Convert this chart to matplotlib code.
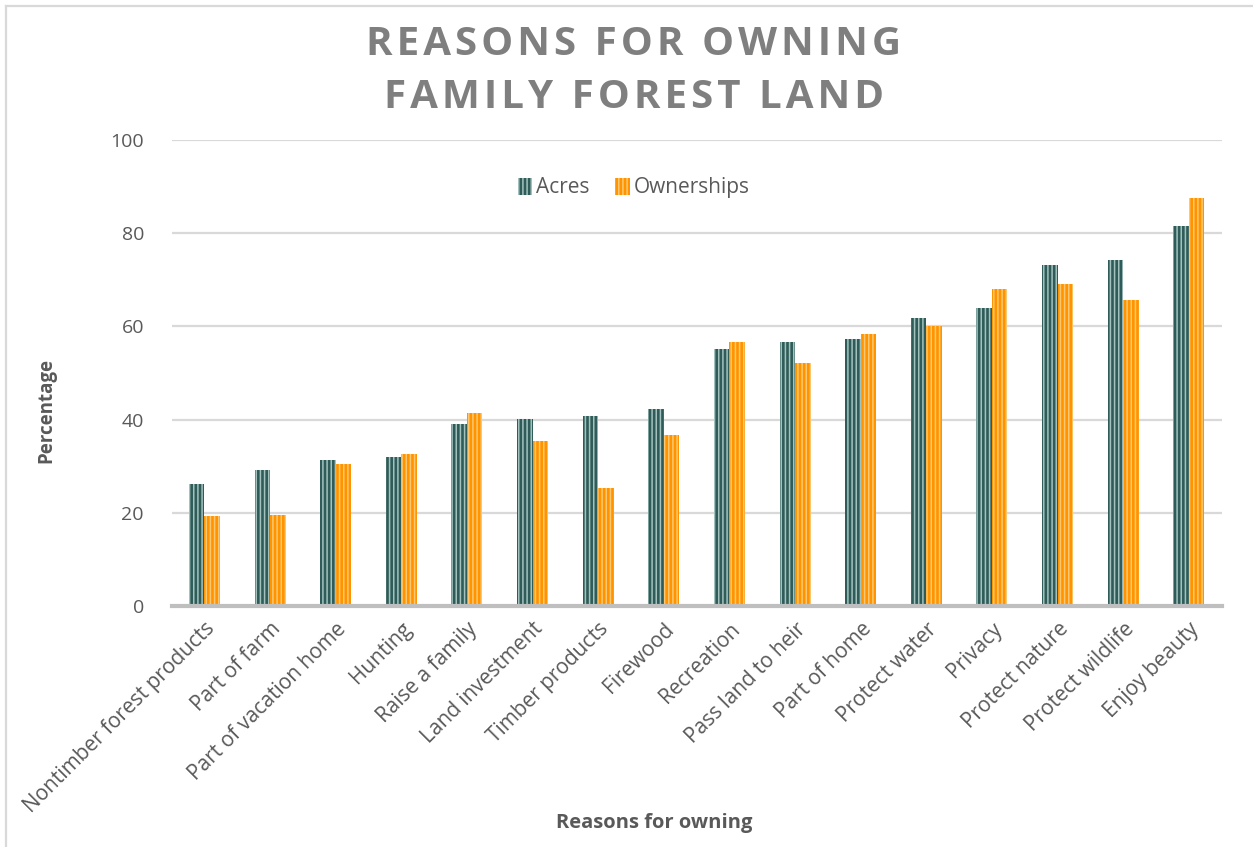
import matplotlib
matplotlib.use("Agg")
import matplotlib.pyplot as plt
from matplotlib.lines import Line2D
import numpy as np

categories = ["Nontimber forest products", "Part of farm", "Part of vacation home",
              "Hunting", "Raise a family", "Land investment", "Timber products",
              "Firewood", "Recreation", "Pass land to heir", "Part of home",
              "Protect water", "Privacy", "Protect nature", "Protect wildlife",
              "Enjoy beauty"]
acres = [26.2, 29.1, 31.3, 32.0, 39.1, 40.1, 40.8, 42.3, 55.1, 56.7, 57.3,
         61.8, 63.9, 73.2, 74.2, 81.5]
ownerships = [19.4, 19.5, 30.4, 32.7, 41.4, 35.4, 25.3, 36.7, 56.7, 52.1, 58.4,
              60.1, 68.0, 69.1, 65.6, 87.5]
title_lines = ["REASONS FOR OWNING", "FAMILY FOREST LAND"]

plt.rcParams['font.family'] = ['Open Sans', 'DejaVu Sans']
plt.rcParams['hatch.linewidth'] = 1.1

fig = plt.figure(figsize=(12.53, 8.47), dpi=100)
ax = fig.add_axes([0.137, 0.2845, 0.838, 0.5502])

x = np.arange(len(categories))
w = 0.236
ax.bar(x - w / 2, acres, w, color="#2f5c58", edgecolor="#a3c2be",
       hatch="||||", linewidth=0, label="Acres", zorder=3)
ax.bar(x + w / 2, ownerships, w, color="#ff9400", edgecolor="#ffc870",
       hatch="||||", linewidth=0, label="Ownerships", zorder=3)

ax.set_xlim(-0.5, len(categories) - 0.5)
ax.set_ylim(0, 100)
ax.set_yticks([0, 20, 40, 60, 80, 100])
ax.yaxis.grid(True, color="#d9d9d9", linewidth=1.6, zorder=0)
ax.set_axisbelow(True)
for s in ["top", "right", "left"]:
    ax.spines[s].set_visible(False)
ax.spines["bottom"].set_color("#bfbfbf")
ax.spines["bottom"].set_linewidth(3)
ax.spines["bottom"].set_zorder(4)
ax.tick_params(axis="both", length=0, labelcolor="#595959")
ax.tick_params(axis="y", pad=20, labelsize=14)
ax.tick_params(axis="x", pad=9, labelsize=15)
ax.set_xticks(x)
ax.set_xticklabels(categories, rotation=45, ha="right", rotation_mode="anchor")

ax.set_ylabel("Percentage", fontsize=13.5, fontweight="bold", color="#595959")
ax.yaxis.set_label_coords(-0.11, 0.42)
ax.set_xlabel("Reasons for owning", fontsize=14.5, fontweight="bold", color="#595959")
ax.xaxis.set_label_coords(0.46, -0.445)

# letter-spaced title
spaced = ["\u200a".join(line) for line in title_lines]
fig.text(0.506, 0.916, "\n".join(spaced), ha="center", va="center",
         fontsize=29, fontweight="bold", color="#7f7f7f", linespacing=1.45)

ax.legend(loc="upper center", bbox_to_anchor=(0.44, 0.96), ncol=2, frameon=False,
          fontsize=15, labelcolor="#595959", handlelength=0.7, handleheight=0.9,
          handletextpad=0.2, columnspacing=1.2)

# chart-area border (top and left edges visible)
fig.add_artist(Line2D([6 / 1253, 6 / 1253], [0, 1 - 6 / 847], transform=fig.transFigure,
                      color="#d9d9d9", linewidth=1.6))
fig.add_artist(Line2D([6 / 1253, 1], [1 - 6 / 847, 1 - 6 / 847], transform=fig.transFigure,
                      color="#d9d9d9", linewidth=1.6))

fig.savefig("out.png", dpi=100)
